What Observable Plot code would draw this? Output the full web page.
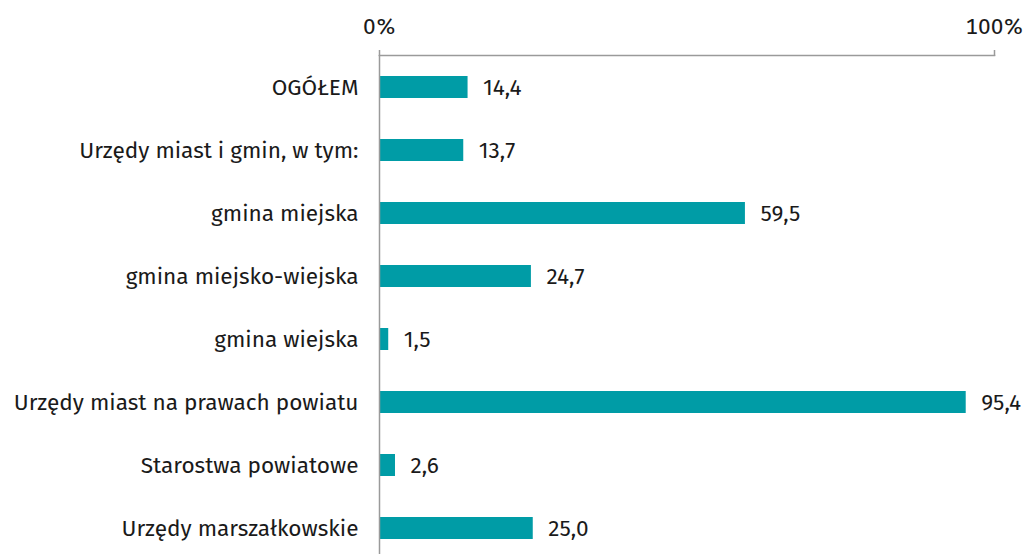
<!DOCTYPE html>
<html>
<head>
<meta charset="utf-8">
<script src="https://cdn.jsdelivr.net/npm/d3@7"></script>
<script src="https://cdn.jsdelivr.net/npm/@observablehq/plot@0.6"></script>
<style>
  html, body { margin: 0; padding: 0; background: #fff; }
  #chart svg { display: block; }
</style>
</head>
<body>
<div id="chart"></div>
<script>
const categories = [
  "OGÓŁEM",
  "Urzędy miast i gmin, w tym:",
  "gmina miejska",
  "gmina miejsko-wiejska",
  "gmina wiejska",
  "Urzędy miast na prawach powiatu",
  "Starostwa powiatowe",
  "Urzędy marszałkowskie"
];
const values = [14.4, 13.7, 59.5, 24.7, 1.5, 95.4, 2.6, 25.0];
const xTicks = [0, 100];

const data = categories.map((c, i) => ({category: c, value: values[i]}));
const fmt = v => d3.format(".1f")(v).replace(".", ",");

const chart = Plot.plot({
  width: 1023,
  height: 554,
  marginLeft: 379,
  marginRight: 29,
  marginTop: 55,
  marginBottom: 0,
  style: {fontFamily: "'Fira Sans', Roboto, sans-serif", fontSize: "22.6px", fontWeight: 400, color: "#1a1a1a", background: "#fff"},
  x: {domain: [0, 100], axis: null},
  y: {domain: categories, range: [55, 560], paddingInner: 0.65, paddingOuter: 0.325, axis: null},
  marks: [
    Plot.barX(data, {x: "value", y: "category", fill: "#009ca6"}),
    Plot.frame({anchor: "top", stroke: "#9a9a9a", strokeWidth: 1.5}),
    Plot.ruleX([0], {stroke: "#9a9a9a", strokeWidth: 1.5}),
    Plot.axisX({anchor: "top", ticks: xTicks, tickFormat: d => d + "%", tickSize: 6, tickPadding: 16, stroke: "#9a9a9a", strokeWidth: 1.5, fill: "#1a1a1a", fontSize: 22.6, label: null}),
    Plot.axisY({anchor: "left", tickSize: 0, tickPadding: 21, fill: "#1a1a1a", fontSize: 22.6, label: null}),
    Plot.text(data, {x: "value", y: "category", text: d => fmt(d.value), textAnchor: "start", dx: 15, fill: "#1a1a1a", fontSize: 22.6})
  ]
});
document.getElementById("chart").appendChild(chart);
</script>
</body>
</html>
